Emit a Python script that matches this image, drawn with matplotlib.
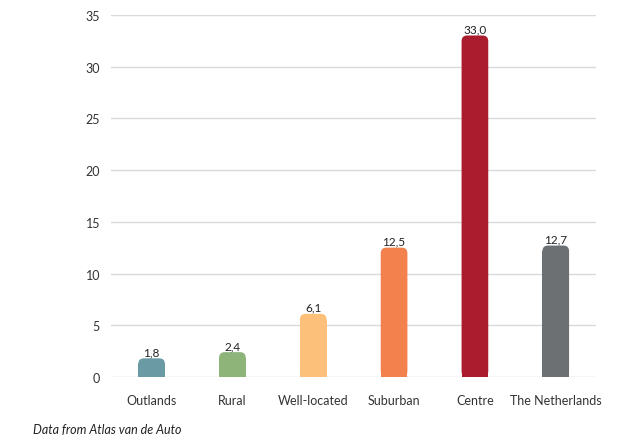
import matplotlib.pyplot as plt
from matplotlib.patches import FancyBboxPatch, Rectangle

categories = ['Outlands', 'Rural', 'Well-located', 'Suburban', 'Centre', 'The Netherlands']
values = [1.8, 2.4, 6.1, 12.5, 33.0, 12.7]
colors = ['#6a9aa3', '#8fb47a', '#fcc07a', '#f3814e', '#ab1c2f', '#6d7072']

plt.rcParams['font.family'] = ['Lato', 'DejaVu Sans']

fig = plt.figure(figsize=(6.21, 4.39), dpi=100)
ax = fig.add_axes([0.179, 0.139, 0.781, 0.825])

ax.set_xlim(-0.5, len(categories) - 0.5)
ax.set_ylim(0, 35)
ax.set_yticks(range(0, 36, 5))
ax.set_xticks(range(len(categories)))
ax.set_xticklabels(categories)
ax.grid(axis='y', color='#d9d9d9', linewidth=1)
ax.set_axisbelow(True)
for side in ['top', 'right', 'left', 'bottom']:
    ax.spines[side].set_visible(False)
ax.tick_params(axis='both', length=0, labelsize=9, colors='#333333')
ax.tick_params(axis='y', pad=8)
ax.tick_params(axis='x', pad=12)

# bars with rounded tops: rounded box plus a square block over the lower part
width = 0.33
rx = 0.07
ry = 0.55
for i, (v, c) in enumerate(zip(values, colors)):
    x0 = i - width / 2
    top = FancyBboxPatch((x0, 0), width, v,
                         boxstyle=f'round,pad=0,rounding_size={rx}',
                         mutation_aspect=ry / rx, facecolor=c, edgecolor='none', zorder=3)
    ax.add_patch(top)
    ax.add_patch(Rectangle((x0, 0), width, max(v - ry, 0), facecolor=c,
                           edgecolor='none', zorder=3))
    ax.text(i, v + 0.1, f'{v:.1f}'.replace('.', ','), ha='center', va='bottom',
            fontsize=8.5, color='#222222')

fig.text(0.053, 0.006, 'Data from Atlas van de Auto', fontsize=9, style='italic',
         color='#222222', ha='left', va='bottom')

fig.savefig('out.png', dpi=100)
